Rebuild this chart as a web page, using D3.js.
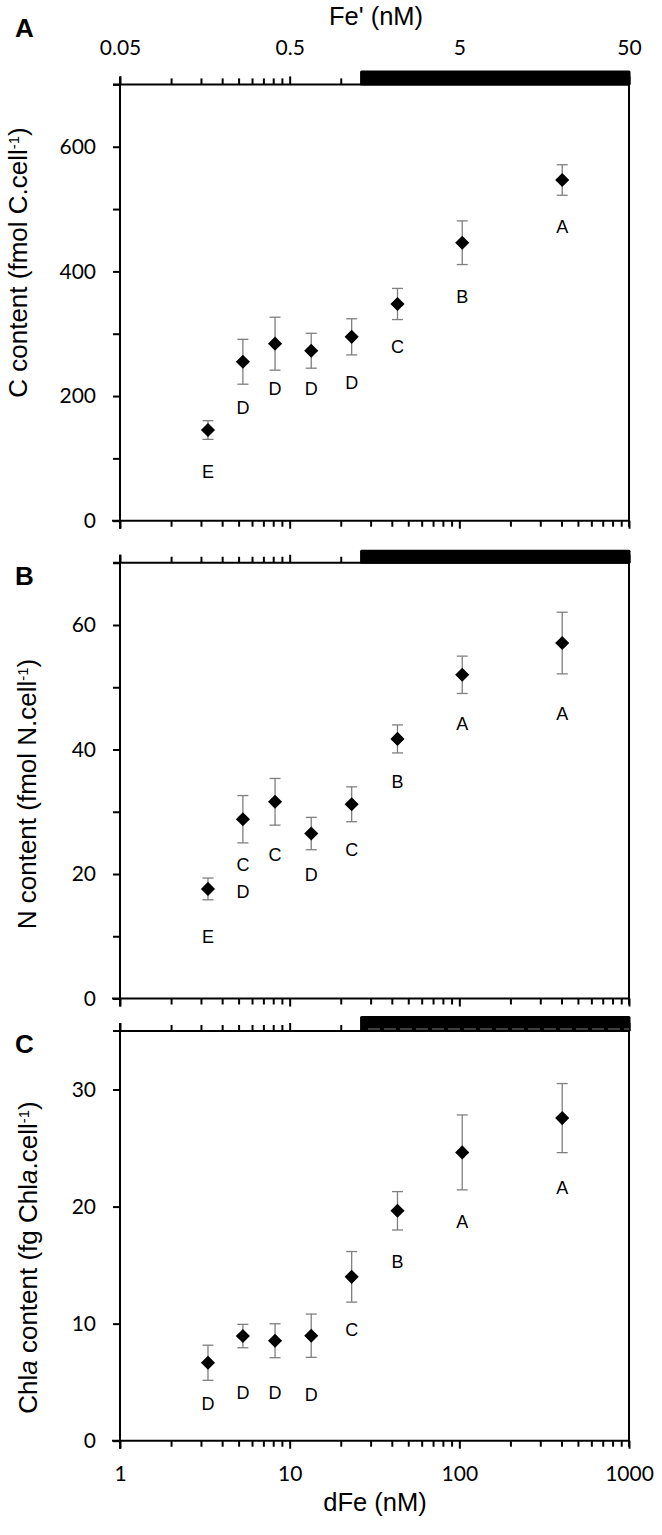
<!DOCTYPE html>
<html><head><meta charset="utf-8">
<script src="https://cdn.jsdelivr.net/npm/d3@7"></script>
<style>body{margin:0;background:#fff}svg{display:block}</style>
</head><body>
<svg id="chart" width="662" height="1535"></svg>
<script>
// ---------- DATA ----------
const dFe = [3.3, 5.3, 8.2, 13.4, 23.2, 43.2, 104, 404];

const carbon     = [145.5, 255, 284, 272.7, 295, 347.7, 446, 546.6];
const carbonErr  = [15, 36, 42.5, 28, 29, 25, 35, 24.5];
const carbonLetters = [["E"],["D"],["D"],["D"],["D"],["C"],["B"],["A"]];
const carbonLetterAt = [78.6, 180.8, 211.3, 211.3, 220.4, 278.7, 359.4, 471.7];

const nitrogen    = [17.6, 28.8, 31.6, 26.5, 31.2, 41.7, 52.0, 57.1];
const nitrogenErr = [1.75, 3.8, 3.75, 2.6, 2.8, 2.25, 3.0, 4.95];
const nitrogenLetters = [["E"],["C","D"],["C"],["D"],["C"],["B"],["A"],["A"]];
const nitrogenLetterAt = [9.93, 21.4, 23.05, 19.8, 23.9, 34.8, 44.1, 45.7];

const chla    = [6.66, 8.94, 8.54, 8.97, 14.0, 19.64, 24.63, 27.56];
const chlaErr = [1.5, 1.0, 1.45, 1.85, 2.16, 1.64, 3.2, 2.95];
const chlaLetters = [["D"],["D"],["D"],["D"],["C"],["B"],["A"],["A"]];
const chlaLetterAt = [3.13, 4.05, 4.07, 3.9, 9.45, 15.3, 18.7, 21.55];

const xDomain = [1, 1000];
const xTickLabels = [1, 10, 100, 1000];
const feDomain = [0.05, 50];
const feTickLabels = ["0.05", "0.5", "5", "50"];
const feBar = [1.3, 50];   // Fe' range marked by the black bar

const yTicksA = [0,100,200,300,400,500,600,700], yLabelsA = [0,200,400,600];
const yTicksB = [0,10,20,30,40,50,60,70],        yLabelsB = [0,20,40,60];
const yTicksC = [0,10,20,30],                    yLabelsC = [0,10,20,30];

// ---------- LAYOUT ----------
const svg = d3.select("#chart");
const L = 120, R = 629;
const x = d3.scaleLog().domain(xDomain).range([L, R]);
const xFe = d3.scaleLog().domain(feDomain).range([L, R]);

function minorLog(start, end) {
  const out = [];
  for (let d = start; d < end * 0.999; d *= 10)
    for (let k = 1; k < 10; k++) out.push(d * k);
  out.push(end);
  return out;
}
const xAll = minorLog(xDomain[0], xDomain[1]);
const feAll = minorLog(feDomain[0], feDomain[1]);
const isMajor = v => xTickLabels.some(m => Math.abs(v / m - 1) < 1e-6);

const panels = [
  {name:"A", top:84.4, bottom:520.7, ymax:700, vals:carbon, err:carbonErr, letters:carbonLetters, letterAt:carbonLetterAt,
   ticks:yTicksA, labels:yLabelsA, barH:14, topLabels:true, bottomLabels:false,
   title:[{t:"C content (fmol C.cell"},{t:"-1",sup:true},{t:")"}], titleX:27, titleY:262.5, labelY:37},
  {name:"B", top:562.75, bottom:998.5, ymax:70, vals:nitrogen, err:nitrogenErr, letters:nitrogenLetters, letterAt:nitrogenLetterAt,
   ticks:yTicksB, labels:yLabelsB, barH:13, topLabels:false, bottomLabels:false,
   title:[{t:"N content (fmol N.cell"},{t:"-1",sup:true},{t:")"}], titleX:35.5, titleY:794, labelY:585},
  {name:"C", top:1031, bottom:1440.7, ymax:35, vals:chla, err:chlaErr, letters:chlaLetters, letterAt:chlaLetterAt,
   ticks:yTicksC, labels:yLabelsC, barH:15, topLabels:false, bottomLabels:true, dashed:true,
   title:[{t:"Chl"},{t:"a",it:true},{t:" content (fg Chl"},{t:"a",it:true},{t:".cell"},{t:"-1",sup:true},{t:")"}], titleX:37, titleY:1257.5, labelY:1053}
];

const TICKFONT = "Lato, 'Open Sans', sans-serif";
const TEXTFONT = "'Liberation Sans', Arial, sans-serif";

panels.forEach(p => {
  const y = d3.scaleLinear().domain([0, p.ymax]).range([p.bottom, p.top]);
  const g = svg.append("g");

  // bottom axis ticks
  g.append("g").attr("transform", `translate(0,${p.bottom})`)
    .call(d3.axisBottom(x).tickValues(xAll.filter(v => !isMajor(v))).tickSize(6).tickSizeOuter(0).tickFormat(""))
    .call(s => s.select(".domain").remove());
  const gb = g.append("g").attr("transform", `translate(0,${p.bottom})`)
    .call(d3.axisBottom(x).tickValues(xTickLabels).tickSize(8).tickSizeOuter(0)
      .tickFormat(p.bottomLabels ? d3.format("d") : ""))
    .call(s => s.select(".domain").remove());
  gb.selectAll("text").attr("y", 40).attr("dy", 0)
    .style("font-family", TICKFONT).style("font-size", "21px").attr("fill", "#000");

  // top axis ticks (Fe')
  g.append("g").attr("transform", `translate(0,${p.top})`)
    .call(d3.axisTop(xFe).tickValues(feAll.filter(v => !feTickLabels.some(m => Math.abs(v / +m - 1) < 1e-6))).tickSize(6).tickSizeOuter(0).tickFormat(""))
    .call(s => s.select(".domain").remove());
  const gt = g.append("g").attr("transform", `translate(0,${p.top})`)
    .call(d3.axisTop(xFe).tickValues(feTickLabels.map(Number)).tickSize(8).tickSizeOuter(0)
      .tickFormat((d, i) => p.topLabels ? feTickLabels[i] : ""))
    .call(s => s.select(".domain").remove());
  gt.selectAll("text").attr("y", -29).attr("dy", 0)
    .style("font-family", TICKFONT).style("font-size", "21px").attr("fill", "#000");

  // left axis
  const gl = g.append("g").attr("transform", `translate(${L},0)`)
    .call(d3.axisLeft(y).tickValues(p.ticks).tickSize(7).tickPadding(17).tickSizeOuter(0)
      .tickFormat(d => p.labels.includes(d) ? d : ""))
    .call(s => s.select(".domain").remove());
  gl.selectAll("text").style("font-family", TICKFONT).style("font-size", "21px").attr("fill", "#000");

  g.selectAll(".tick line").attr("stroke", "#000").attr("stroke-width", 2);

  // axis lines / frame
  const line = (x1, y1, x2, y2, w) => g.append("line").attr("x1", x1).attr("y1", y1).attr("x2", x2).attr("y2", y2)
      .attr("stroke", "#000").attr("stroke-width", w || 2);
  line(L, p.top - 8, L, p.bottom + 8);           // left
  line(L - 8, p.bottom, R, p.bottom);            // bottom
  line(L - 7, p.top, R + 1, p.top);              // top
  line(R, p.top, R, p.bottom + 6);               // right

  // black bar for Fe' range
  g.append("rect").attr("x", xFe(feBar[0])).attr("y", p.top - p.barH)
    .attr("width", xFe(feBar[1]) - xFe(feBar[0]) + 1.5).attr("height", p.barH + 1)
    .attr("rx", 1.5).attr("fill", "#000");
  if (p.dashed) {
    g.append("line").attr("x1", xFe(feBar[0]) + 8).attr("x2", R).attr("y1", p.top - 2).attr("y2", p.top - 2)
      .attr("stroke", "#9a9a9a").attr("stroke-width", 0.8).attr("stroke-dasharray", "12,4");
  }

  // error bars
  const eb = g.append("g").attr("stroke", "#7f7f7f").attr("stroke-width", 1.3);
  p.vals.forEach((v, i) => {
    const cx = x(dFe[i]), y1 = y(v + p.err[i]), y2 = y(v - p.err[i]);
    eb.append("line").attr("x1", cx).attr("x2", cx).attr("y1", y1).attr("y2", y2);
    eb.append("line").attr("x1", cx - 5.5).attr("x2", cx + 5.5).attr("y1", y1).attr("y2", y1);
    eb.append("line").attr("x1", cx - 5.5).attr("x2", cx + 5.5).attr("y1", y2).attr("y2", y2);
  });

  // diamonds
  const sym = d3.symbol(d3.symbolSquare, 100);
  g.selectAll(".pt").data(p.vals).join("path")
    .attr("d", sym).attr("fill", "#000")
    .attr("transform", (v, i) => `translate(${x(dFe[i])},${y(v)}) rotate(45)`);

  // significance letters
  p.letters.forEach((ls, i) => {
    ls.forEach((s, j) => {
      g.append("text").attr("x", x(dFe[i])).attr("y", y(p.letterAt[i]) + j * 26.7)
        .attr("text-anchor", "middle").attr("dominant-baseline", "central")
        .style("font-family", TEXTFONT).style("font-size", "18px").text(s);
    });
  });

  // y title
  const t = g.append("text").attr("transform", `translate(${p.titleX},${p.titleY}) rotate(-90)`)
    .attr("text-anchor", "middle").style("font-family", TEXTFONT).style("font-size", "26px");
  p.title.forEach(part => {
    const ts = t.append("tspan").text(part.t);
    if (part.it) ts.style("font-style", "italic");
    if (part.sup) ts.attr("baseline-shift", "super").style("font-size", "15px");
  });

  // panel letter
  g.append("text").attr("x", 15).attr("y", p.labelY)
    .style("font-family", TEXTFONT).style("font-weight", "bold").style("font-size", "26px").text(p.name);
});

// top and bottom axis titles
svg.append("text").attr("x", 376).attr("y", 25).attr("text-anchor", "middle")
  .style("font-family", TEXTFONT).style("font-size", "25.5px").text("Fe' (nM)");
svg.append("text").attr("x", 375).attr("y", 1511).attr("text-anchor", "middle")
  .style("font-family", TEXTFONT).style("font-size", "25.5px").text("dFe (nM)");
</script>
</body></html>
